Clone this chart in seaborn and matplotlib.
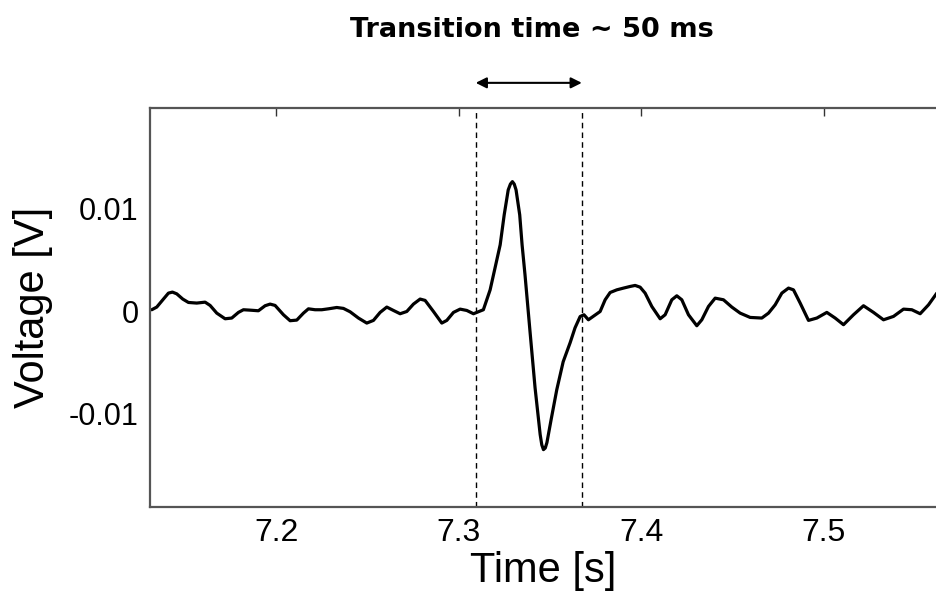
import matplotlib
matplotlib.use("Agg")
import matplotlib.pyplot as plt
import seaborn as sns
import pandas as pd

# --- data ---
time_s = [
    7.13191, 7.13465, 7.13830, 7.14104, 7.14323, 7.14560, 7.14889, 7.15199, 7.15655,
    7.16112, 7.16386, 7.16751, 7.17207, 7.17572, 7.17937, 7.18211, 7.18576, 7.19032,
    7.19398, 7.19671, 7.19945, 7.20402, 7.20767, 7.21132, 7.21497, 7.21771, 7.22136,
    7.22501, 7.22866, 7.23322, 7.23687, 7.24053, 7.24509, 7.24965, 7.25330, 7.25696,
    7.26061, 7.26426, 7.26791, 7.27156, 7.27521, 7.27886, 7.28160, 7.28616, 7.29073,
    7.29347, 7.29712, 7.30077, 7.30442, 7.30807,
    7.3135, 7.3172, 7.3199, 7.3227, 7.3249, 7.3271, 7.3283, 7.3294, 7.3304, 7.3314,
    7.3334, 7.3347, 7.3363, 7.3391, 7.3418, 7.3446, 7.3455, 7.3464, 7.3474, 7.3483,
    7.3506, 7.3537, 7.3572, 7.3610, 7.3637, 7.3665, 7.3686, 7.3710,
    7.37744, 7.38018, 7.38291, 7.38656, 7.39022, 7.39387, 7.39660, 7.39934, 7.40208,
    7.40573, 7.41030, 7.41303, 7.41668, 7.41942, 7.42216, 7.42581, 7.43037, 7.43311,
    7.43676, 7.44042, 7.44498, 7.44954, 7.45411, 7.45958, 7.46597, 7.46963, 7.47328,
    7.47693, 7.48058, 7.48331, 7.48697, 7.49153, 7.49610, 7.50157, 7.50613, 7.51070,
    7.51617, 7.52165, 7.52713, 7.53260, 7.53808, 7.54356, 7.54812, 7.55268, 7.55725,
    7.56181]
voltage_v = [
    0.00013, 0.00039, 0.00117, 0.00175, 0.00185, 0.00168, 0.00117, 0.00084, 0.00078,
    0.00087, 0.00055, -0.00020, -0.00075, -0.00068, -0.00013, 0.00013, 0.00009, 0.00003,
    0.00052, 0.00068, 0.00055, -0.00036, -0.00094, -0.00088, -0.00020, 0.00022, 0.00013,
    0.00013, 0.00022, 0.00035, 0.00026, -0.00007, -0.00068, -0.00117, -0.00091, -0.00013,
    0.00039, 0.00006, -0.00026, -0.00004, 0.00068, 0.00117, 0.00104, -0.00004, -0.00117,
    -0.00091, -0.00013, 0.00019, 0.00006, -0.00026,
    0.00013, 0.00207, 0.00422, 0.00646, 0.00938, 0.01181, 0.01238, 0.01262, 0.01238,
    0.01181, 0.00938, 0.00646, 0.00353, -0.00211, -0.00747, -0.01204, -0.01305, -0.01351,
    -0.01335, -0.01282, -0.01058, -0.00766, -0.00494, -0.00309, -0.00163, -0.00053,
    -0.00036, -0.00085,
    -0.00004, 0.00110, 0.00181, 0.00207, 0.00224, 0.00240, 0.00250, 0.00233, 0.00175,
    0.00045, -0.00075, -0.00036, 0.00110, 0.00149, 0.00110, -0.00036, -0.00143, -0.00085,
    0.00045, 0.00126, 0.00110, 0.00039, -0.00020, -0.00062, -0.00068, -0.00020, 0.00061,
    0.00175, 0.00224, 0.00207, 0.00078, -0.00091, -0.00068, -0.00013, -0.00068, -0.00133,
    -0.00036, 0.00052, -0.00013, -0.00085, -0.00052, 0.00019, 0.00013, -0.00026, 0.00061,
    0.00175]
transition_bounds = [7.3093, 7.3674]
x_ticks = [7.2, 7.3, 7.4, 7.5]
x_tick_labels = ["7.2", "7.3", "7.4", "7.5"]
y_ticks = [-0.01, 0.0, 0.01]
y_tick_labels = ["-0.01", "0", "0.01"]
title_text = "Transition time ~ 50 ms"

sns.set_style("white")
plt.rcParams["font.family"] = ["Liberation Sans", "DejaVu Sans"]
plt.rcParams["text.color"] = "black"
plt.rcParams["axes.labelcolor"] = "black"
plt.rcParams["xtick.color"] = "black"
plt.rcParams["ytick.color"] = "black"

df = pd.DataFrame({"Time": time_s, "Voltage": voltage_v})

fig = plt.figure(figsize=(9.37, 5.94), dpi=100)
ax = fig.add_axes([0.1596, 0.1465, 0.8404, 0.6717])

sns.lineplot(data=df, x="Time", y="Voltage", ax=ax, color="black", sort=False,
             linewidth=2.3, solid_joinstyle="round", solid_capstyle="round")

for xb in transition_bounds:
    ax.axvline(xb, color="black", linestyle=(0, (4, 3)), linewidth=1.0)

ax.set_xlim(7.1307, 7.5619)
ax.set_ylim(-0.0191, 0.0198)
ax.set_xticks(x_ticks)
ax.set_xticklabels(x_tick_labels)
ax.set_yticks(y_ticks)
ax.set_yticklabels(y_tick_labels)
ax.tick_params(direction="in", length=6, width=1.0, color="#333333",
               top=True, right=False, pad=8)
ax.tick_params(axis="x", labelsize=23)
ax.tick_params(axis="y", labelsize=22)
ax.set_xlabel("Time [s]", fontsize=30, labelpad=2)
ax.set_ylabel("Voltage [V]", fontsize=30, labelpad=11)

for side in ["left", "bottom", "top"]:
    ax.spines[side].set_color("#555555")
    ax.spines[side].set_linewidth(1.6)
ax.spines["right"].set_visible(False)

ax.annotate("", xy=(transition_bounds[0], 1.063), xytext=(transition_bounds[1], 1.063),
            xycoords=("data", "axes fraction"), textcoords=("data", "axes fraction"),
            arrowprops=dict(arrowstyle="<|-|>", color="black", lw=1.5,
                            mutation_scale=16, shrinkA=0, shrinkB=0),
            annotation_clip=False)

fig.text(0.568, 0.9487, title_text, ha="center", va="center",
         fontsize=19.5, fontweight="bold", family=["DejaVu Sans"])

fig.savefig("out.png", dpi=100, facecolor="white")
